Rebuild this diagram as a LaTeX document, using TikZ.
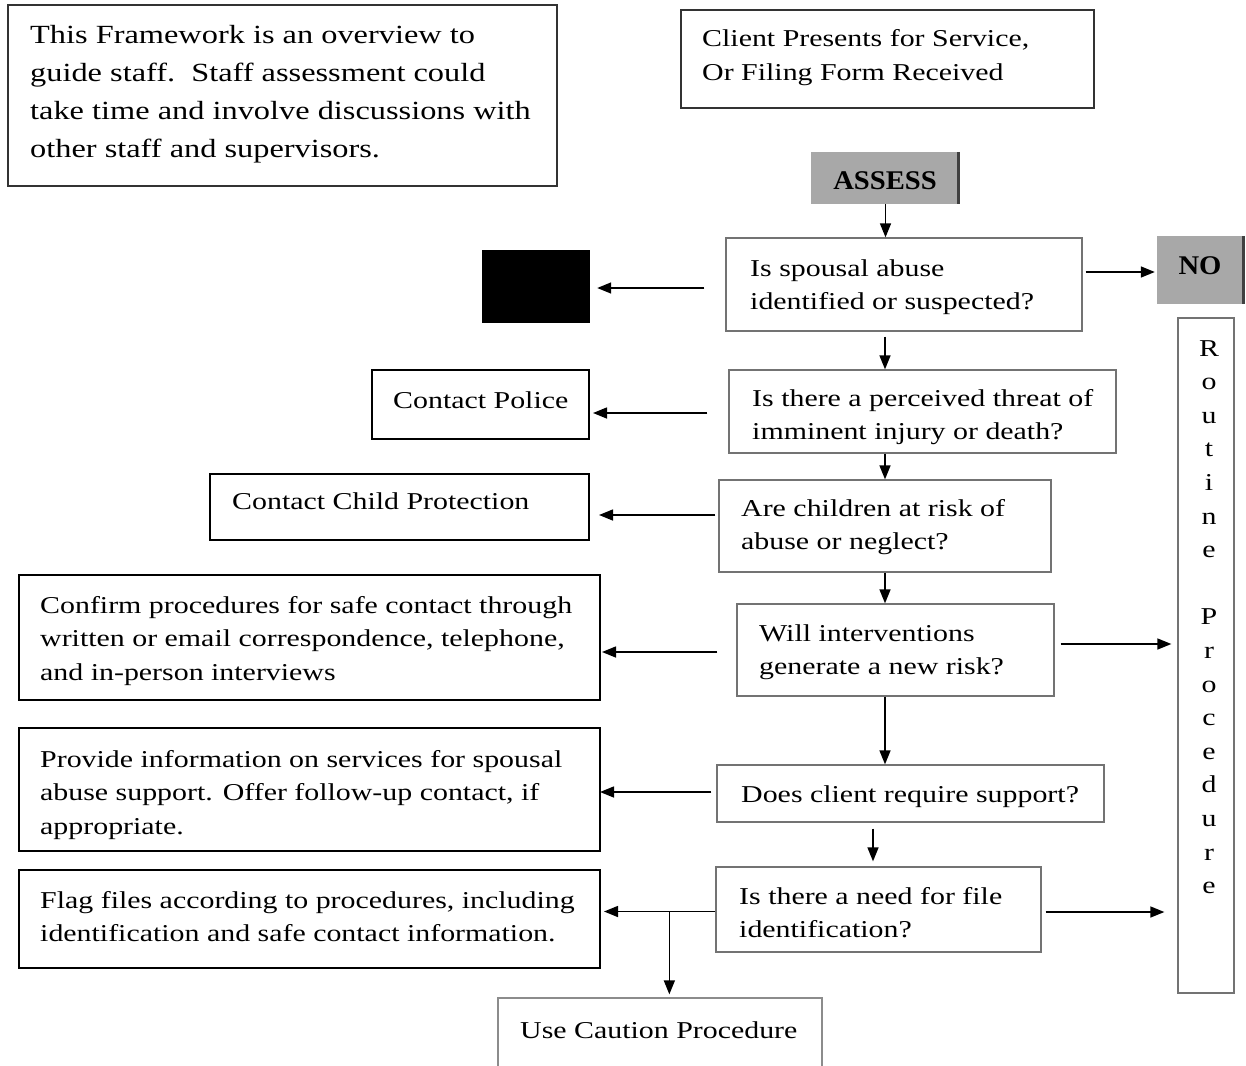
\documentclass[tikz,border=0pt]{standalone}
\usepackage{fontspec}
\setmainfont{Liberation Serif}[FakeStretch=1.235]
\newfontfamily\hdfont{Liberation Serif}[FakeStretch=1.06]
\usetikzlibrary{arrows.meta,fit,calc}
\newcommand\mlines[1]{\vtop{\halign{##\hfil\cr#1\crcr}}}
\newcommand\clines[1]{\vtop{\halign{\hfil##\hfil\cr#1\crcr}}}
\begin{document}
\begin{tikzpicture}[x=1pt,y=-1pt,
  bodyfont/.style={font=\fontsize{24.2}{33.5}\selectfont},
  txt/.style={bodyfont, inner sep=0pt, anchor=base west},
  qbox/.style={draw=black!55, line width=1.3pt, inner sep=0pt},
  lbox/.style={draw=black, line width=2pt, inner sep=0pt},
  tbox/.style={draw=black!80, line width=1.6pt, inner sep=0pt},
  shade/.style={fill=black!34, inner sep=0pt},
  hdtext/.style={font=\hdfont\bfseries\fontsize{27}{30}\selectfont, anchor=base, inner sep=0pt},
  arr/.style={line width=1.5pt, -{Triangle[length=14pt,width=11pt]}},
]
\useasboundingbox (0,0) rectangle (1246,1065);

% top boxes
\node[tbox, fit={(8,5)(557,186)}] (tl) {};
\node[txt, font=\fontsize{26.2}{38}\selectfont] (tlt) at (30,44)
  {\mlines{This Framework is an overview to\cr guide staff.\ \ Staff assessment could\cr take time and involve discussions with\cr other staff and supervisors.}};
\node[tbox, fit={(681,10)(1094,108)}] (client) {};
\node[txt] (clientt) at (702,47) {\mlines{Client Presents for Service,\cr Or Filing Form Received}};

% ASSESS
\node[shade, fit={(811,152)(960,204)}] (assess) {};
\draw[line width=3pt, black!75] ([xshift=-1.5pt]assess.north east) -- ([xshift=-1.5pt]assess.south east);
\node[hdtext] (assesst) at (885,189) {ASSESS};

% NO
\node[shade, fit={(1157,236)(1245,304)}] (no) {};
\draw[line width=3pt, black!75] ([xshift=-1.5pt]no.north east) -- ([xshift=-1.5pt]no.south east);
\node[hdtext] (not) at (1200,274) {NO};

% Routine procedure
\node[qbox, fit={(1178,318)(1234,993)}] (routine) {};
\node[font=\fontsize{24.2}{33.6}\selectfont, anchor=base, inner sep=0pt] (routinet) at (1209,356)
  {\clines{R\cr o\cr u\cr t\cr i\cr n\cr e\cr \cr P\cr r\cr o\cr c\cr e\cr d\cr u\cr r\cr e}};

% question boxes
\node[qbox, fit={(726,238)(1082,331)}] (q1) {};
\node[txt] (q1t) at (750,276) {\mlines{Is spousal abuse\cr identified or suspected?}};
\node[qbox, fit={(729,370)(1116,453)}] (q2) {};
\node[txt] (q2t) at (752,406) {\mlines{Is there a perceived threat of\cr imminent injury or death?}};
\node[qbox, fit={(719,480)(1051,572)}] (q3) {};
\node[txt] (q3t) at (741,516) {\mlines{Are children at risk of\cr abuse or neglect?}};
\node[qbox, fit={(737,604)(1054,696)}] (q4) {};
\node[txt] (q4t) at (759,641) {\mlines{Will interventions\cr generate a new risk?}};
\node[qbox, fit={(717,765)(1104,822)}] (q5) {};
\node[txt] (q5t) at (741,802) {Does client require support?};
\node[qbox, fit={(716,867)(1041,952)}] (q6) {};
\node[txt] (q6t) at (739,904) {\mlines{Is there a need for file\cr identification?}};

% left boxes
\node[fill=black, inner sep=0pt, fit={(482,250)(590,323)}] (blk) {};
\node[lbox, fit={(372,370)(589,439)}] (police) {};
\node[txt] (policet) at (393,408) {Contact Police};
\node[lbox, fit={(210,474)(589,540)}] (child) {};
\node[txt] (childt) at (232,509) {Contact Child Protection};
\node[lbox, fit={(19,575)(600,700)}] (confirm) {};
\node[txt] (confirmt) at (40,613) {\mlines{Confirm procedures for safe contact through\cr written or email correspondence, telephone,\cr and in-person interviews}};
\node[lbox, fit={(19,728)(600,851)}] (provide) {};
\node[txt] (providet) at (40,767) {\mlines{Provide information on services for spousal\cr abuse support. Offer follow-up contact, if\cr appropriate.}};
\node[lbox, fit={(19,870)(600,968)}] (flag) {};
\node[txt] (flagt) at (40,908) {\mlines{Flag files according to procedures, including\cr identification and safe contact information.}};
\node[qbox, draw=black!45, fit={(498,998)(822,1085)}] (caution) {};
\node[txt] (cautiont) at (520,1038) {Use Caution Procedure};

% connectors
\draw[arr] (assess.south) -- (assess.south |- q1.north);
\draw[arr] ($(q1.west)+(-21,3.5)$) -- ($(blk.east)+(7,1.5)$);
\draw[arr] ($(q1.east)+(3,-12.5)$) -- ($(no.west)+(-2,2)$);
\draw[arr] ($(q1.south)+(-19,5)$) -- ($(q2.north)+(-37.5,0)$);
\draw[arr] ($(q2.west)+(-21,1.5)$) -- ($(police.east |- q2.west)+(3,1.5)$);
\draw[arr] ($(q2.south)+(-37.5,0)$) -- (q3.north);
\draw[arr] ($(q3.west)+(-3,-11)$) -- ($(child.east |- q3.west)+(9,-11)$);
\draw[arr] (q3.south) -- ($(q4.north)+(-10.5,0)$);
\draw[arr] ($(q4.west)+(-19,2)$) -- ($(confirm.east |- q4.west)+(1,2)$);
\draw[arr] ($(q4.east)+(6,-6)$) -- ($(routine.west |- q4.east)+(-6,-6)$);
\draw[arr] ($(q4.south)+(-10.5,0)$) -- ($(q5.north)+(-25.5,0)$);
\draw[arr] ($(q5.west)+(-5,-1.5)$) -- ($(provide.east |- q5.west)+(-1,-1.5)$);
\draw[arr] ($(q5.south)+(-37.5,6)$) -- ($(q6.north)+(-5.5,-5)$);
\draw[arr] ($(q6.west)+(0,2)$) -- ($(flag.east |- q6.west)+(3,2)$);
\coordinate (br) at ($(q6.west)+(-46,2)$);
\draw[arr] (br) -- ($(br |- caution.north)+(0,-3)$);
\draw[arr] ($(q6.east)+(4,2.5)$) -- ($(routine.west |- q6.east)+(-13,2.5)$);
\end{tikzpicture}
\end{document}
